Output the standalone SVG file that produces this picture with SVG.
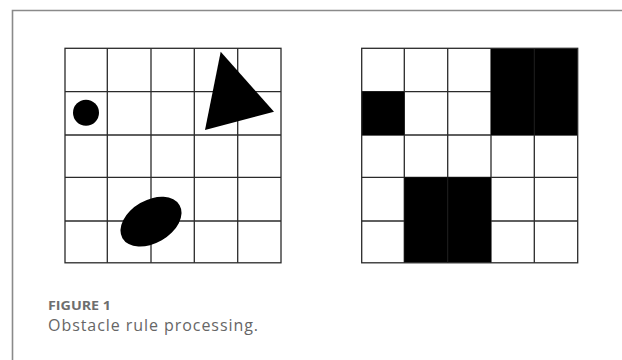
<svg xmlns="http://www.w3.org/2000/svg" width="622" height="360" viewBox="0 0 622 360">
<style>
.grid line{stroke:#2a2a2a;stroke-width:1.3}
.faint{stroke:#202020;stroke-width:1}
.border{fill:none;stroke:#2a2a2a;stroke-width:1.3}
.blk{fill:#000}
.cap1{font-family:"Open Sans","Liberation Sans",sans-serif;font-weight:bold;font-size:12.5px;fill:#6e6e6e}
.cap2{font-family:"Open Sans","Liberation Sans",sans-serif;font-size:16px;fill:#666}
</style>
<rect width="622" height="360" fill="#fff"/>
<path d="M12.5,360 V10.5 H622" fill="none" stroke="#8a8a8a" stroke-width="1.6"/>
<g id="left-grid">
<rect x="65" y="48.3" width="216" height="214.5" fill="#fff"/>
<g class="grid">
<line x1="107.3" y1="48.3" x2="107.3" y2="262.7"/>
<line x1="151" y1="48.3" x2="151" y2="262.7"/>
<line x1="194.3" y1="48.3" x2="194.3" y2="262.7"/>
<line x1="237.7" y1="48.3" x2="237.7" y2="262.7"/>
<line x1="65" y1="91.7" x2="281" y2="91.7"/>
<line x1="65" y1="135" x2="281" y2="135"/>
<line x1="65" y1="177.3" x2="281" y2="177.3"/>
<line x1="65" y1="221" x2="281" y2="221"/>
</g>
<ellipse class="blk" cx="151" cy="221.7" rx="33" ry="21.5" transform="rotate(-30 151 221.7)"/>
<circle class="blk" cx="86" cy="112.7" r="13"/>
<polygon class="blk" points="220.7,51.7 274,111.7 205,130"/>
<rect class="border" x="65" y="48.3" width="216" height="214.5"/>
</g>
<g id="right-grid">
<rect x="361.7" y="48.3" width="216" height="214.5" fill="#fff"/>
<g class="grid">
<line x1="404.3" y1="48.3" x2="404.3" y2="262.7"/>
<line x1="447.7" y1="48.3" x2="447.7" y2="262.7"/>
<line x1="491" y1="48.3" x2="491" y2="262.7"/>
<line x1="534.3" y1="135" x2="534.3" y2="262.7"/>
<line x1="361.7" y1="91.7" x2="491" y2="91.7"/>
<line x1="361.7" y1="135" x2="577.7" y2="135"/>
<line x1="361.7" y1="177.3" x2="577.7" y2="177.3"/>
<line x1="361.7" y1="221" x2="577.7" y2="221"/>
</g>
<rect class="blk" x="491" y="48.3" width="86.7" height="86.7"/>
<rect class="blk" x="361.7" y="91.7" width="42.6" height="43.3"/>
<rect class="blk" x="404.3" y="177.3" width="86.7" height="85.4"/>
<line class="faint" x1="534.3" y1="48.3" x2="534.3" y2="135"/>
<line class="faint" x1="447.7" y1="177.3" x2="447.7" y2="262.7"/>
<rect class="border" x="361.7" y="48.3" width="216" height="214.5"/>
</g>
<text class="cap1" x="48" y="309.5" textLength="63" lengthAdjust="spacingAndGlyphs">FIGURE 1</text>
<text class="cap2" x="48" y="330.5" textLength="210" lengthAdjust="spacing">Obstacle rule processing.</text>
</svg>
